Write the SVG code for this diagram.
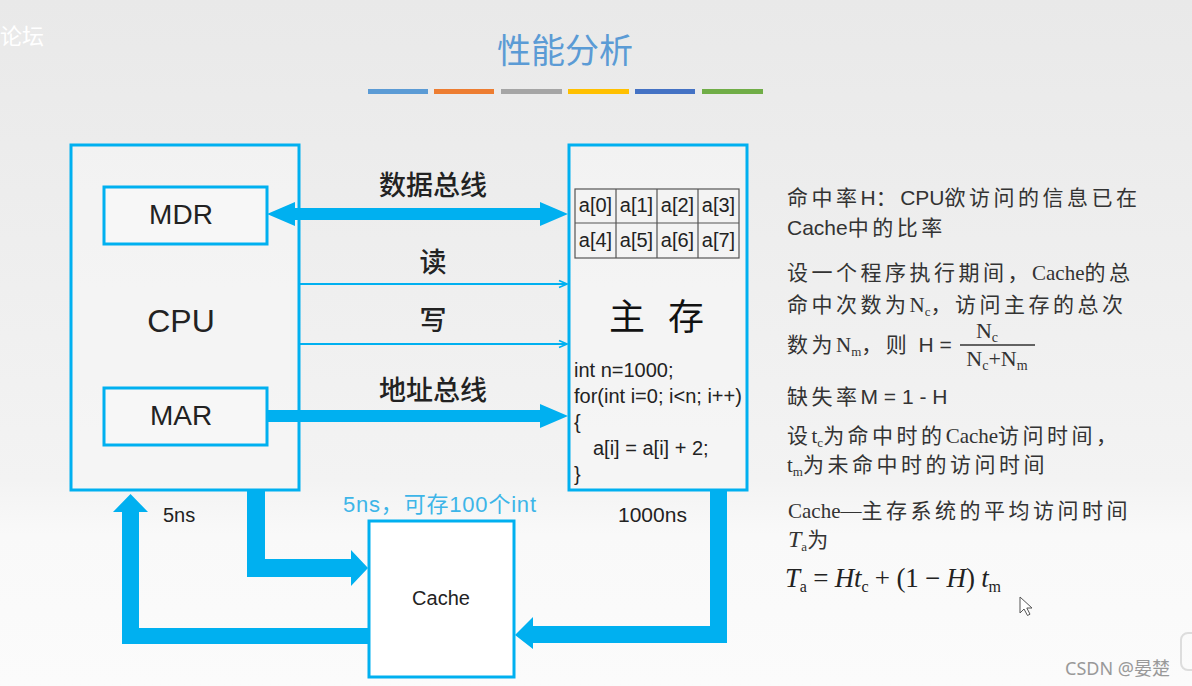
<svg xmlns="http://www.w3.org/2000/svg" width="1192" height="686" viewBox="0 0 1192 686">
<defs>
<linearGradient id="bg" x1="0" y1="0" x2="0" y2="1">
<stop offset="0" stop-color="#E9E9E9"/>
<stop offset="0.7" stop-color="#F3F3F3"/>
<stop offset="0.78" stop-color="#F9F9F9"/>
<stop offset="1" stop-color="#FBFBFB"/>
</linearGradient>
<marker id="thin" markerWidth="10" markerHeight="10" refX="9" refY="5" orient="auto" markerUnits="userSpaceOnUse">
<path d="M1,1.5 L9,5 L1,8.5" fill="none" stroke="#00B0F0" stroke-width="1.6"/>
</marker>
<style>
.box{fill:#F7F7F7;fill-opacity:0.6;stroke:#00B0F0;stroke-width:3}
.reg{fill:#F7F7F7;stroke:#00B0F0;stroke-width:3}
.thick{fill:#00B0F0}
.thin{stroke:#00B0F0;stroke-width:2;fill:none}
.lab{font-family:"Liberation Sans","Noto Sans CJK SC",sans-serif;fill:#222}
.cjk{font-family:"Noto Sans CJK SC",sans-serif}
.bus{font-family:"Noto Sans CJK SC",sans-serif;font-size:27px;font-weight:500;fill:#222;text-anchor:middle}
.cell{font-family:"Liberation Sans",sans-serif;font-size:20px;fill:#222;text-anchor:middle}
.code{font-family:"Liberation Sans",sans-serif;font-size:20px;fill:#222}
.rt{font-family:"Noto Sans CJK SC",sans-serif;font-size:21px;fill:#333;letter-spacing:3.5px}
.sa{font-family:"Liberation Sans",sans-serif;letter-spacing:0}
.se{font-family:"Liberation Serif",serif;letter-spacing:0}
.sub{font-family:"Liberation Serif",serif;letter-spacing:0;font-size:13px}
.it{font-family:"Liberation Serif",serif;font-style:italic;letter-spacing:0}
</style>
</defs>
<rect x="0" y="0" width="1192" height="686" fill="url(#bg)"/>
<text x="0" y="44" font-family="Noto Sans CJK SC, sans-serif" font-size="22" fill="#FFFFFF">论坛</text>

<g id="title">
<text x="565" y="63" font-family="Noto Sans CJK SC, sans-serif" font-size="34" fill="#5B9BD5" text-anchor="middle">性能分析</text>
<rect x="368" y="89" width="60" height="5" fill="#5B9BD5"/>
<rect x="434" y="89" width="60" height="5" fill="#ED7D31"/>
<rect x="501" y="89" width="61" height="5" fill="#A5A5A5"/>
<rect x="568" y="89" width="61" height="5" fill="#FFC000"/>
<rect x="635" y="89" width="60" height="5" fill="#4472C4"/>
<rect x="702" y="89" width="61" height="5" fill="#70AD47"/>
</g>

<g id="cpu">
<rect class="box" x="71" y="145" width="228" height="345"/>
<text class="lab" x="181" y="332" font-size="32" text-anchor="middle">CPU</text>
</g>
<g id="mdr">
<rect class="reg" x="104" y="187" width="163" height="57"/>
<text class="lab" x="181" y="224" font-size="28" text-anchor="middle">MDR</text>
</g>
<g id="mar">
<rect class="reg" x="104" y="388" width="163" height="57"/>
<text class="lab" x="181" y="425" font-size="28" text-anchor="middle">MAR</text>
</g>

<g id="memory">
<rect class="box" x="569" y="145" width="178" height="345"/>
<g fill="none" stroke="#555" stroke-width="1.2">
<rect x="575" y="189" width="164" height="69"/>
<line x1="575" y1="223" x2="739" y2="223"/>
<line x1="616" y1="189" x2="616" y2="258"/>
<line x1="657" y1="189" x2="657" y2="258"/>
<line x1="698" y1="189" x2="698" y2="258"/>
</g>
<text class="cell" x="595.5" y="212">a[0]</text>
<text class="cell" x="636.5" y="212">a[1]</text>
<text class="cell" x="677.5" y="212">a[2]</text>
<text class="cell" x="718.5" y="212">a[3]</text>
<text class="cell" x="595.5" y="247">a[4]</text>
<text class="cell" x="636.5" y="247">a[5]</text>
<text class="cell" x="677.5" y="247">a[6]</text>
<text class="cell" x="718.5" y="247">a[7]</text>
<text class="cjk" x="627" y="330" font-size="36" fill="#111" text-anchor="middle">主</text>
<text class="cjk" x="686" y="330" font-size="36" fill="#111" text-anchor="middle">存</text>
<text class="code" x="574" y="377">int n=1000;</text>
<text class="code" x="574" y="403">for(int i=0; i&lt;n; i++)</text>
<text class="code" x="574" y="429">{</text>
<text class="code" x="593" y="455">a[i] = a[i] + 2;</text>
<text class="code" x="574" y="481">}</text>
</g>

<g id="cache">
<rect x="369" y="521" width="145" height="156" fill="#FFFFFF" stroke="#00B0F0" stroke-width="3"/>
<text class="lab" x="441" y="605" font-size="20" text-anchor="middle">Cache</text>
</g>

<g id="connectors">
<polygon class="thick" points="267,214 295,202 295,208 540,208 540,202 568,214 540,226 540,220 295,220 295,226"/>
<polygon class="thick" points="267,410 540,410 540,404 568,416 540,428 540,422 267,422"/>
<line class="thin" x1="299" y1="284" x2="567" y2="284" marker-end="url(#thin)"/>
<line class="thin" x1="299" y1="344" x2="567" y2="344" marker-end="url(#thin)"/>
<polygon class="thick" points="247,491 265,491 265,559 351,559 351,550 368,568 351,586 351,577 247,577"/>
<polygon class="thick" points="368,628 139,628 139,512 148,512 130.5,494 113,512 122,512 122,644 368,644"/>
<polygon class="thick" points="710,491 727,491 727,643 533,643 533,649 515,635 533,617 533,626 710,626"/>
</g>

<g id="labels">
<text class="bus" x="433" y="195">数据总线</text>
<text class="bus" x="433" y="272">读</text>
<text class="bus" x="433" y="330">写</text>
<text class="bus" x="433" y="400">地址总线</text>
<text class="lab" x="163" y="522" font-size="20" fill="#333">5ns</text>
<text class="lab" x="343" y="512" font-size="22" style="fill:#3DB5E8;letter-spacing:0.8px">5ns，可存100个int</text>
<text class="lab" x="618" y="522" font-size="21">1000ns</text>
</g>

<g id="notes">
<text class="rt" x="787" y="205">命中率<tspan class="sa">H</tspan>：<tspan class="sa">CPU</tspan>欲访问的信息已在</text>
<text class="rt" x="787" y="235"><tspan class="sa">Cache</tspan>中的比率</text>
<text class="rt" x="787" y="280">设一个程序执行期间，<tspan class="se">Cache</tspan>的总</text>
<text class="rt" x="787" y="312">命中次数为<tspan class="se">N</tspan><tspan class="sub" dy="4">c</tspan><tspan dy="-4">，访问主存的总次</tspan></text>
<text class="rt" x="787" y="352">数为<tspan class="se">N</tspan><tspan class="sub" dy="4">m</tspan><tspan dy="-4">，则 </tspan><tspan class="sa">H =</tspan></text>
<text class="se" x="987" y="338" font-size="22" fill="#333" text-anchor="middle">N<tspan font-size="14" dy="4">c</tspan></text>
<line x1="960" y1="345" x2="1035" y2="345" stroke="#333" stroke-width="1.6"/>
<text class="se" x="997" y="366" font-size="22" fill="#333" text-anchor="middle">N<tspan font-size="14" dy="4">c</tspan><tspan dy="-4">+N</tspan><tspan font-size="14" dy="4">m</tspan></text>
<text class="rt" x="787" y="404">缺失率<tspan class="sa">M = 1 - H</tspan></text>
<text class="rt" x="787" y="443">设<tspan class="se">t</tspan><tspan class="sub" dy="4">c</tspan><tspan dy="-4">为命中时的</tspan><tspan class="se">Cache</tspan>访问时间，</text>
<text class="rt" x="787" y="472"><tspan class="se">t</tspan><tspan class="sub" dy="4">m</tspan><tspan dy="-4">为未命中时的访问时间</tspan></text>
<text class="rt" x="788" y="518" font-size="22" style="letter-spacing:3.5px"><tspan class="se">Cache—</tspan>主存系统的平均访问时间</text>
<text class="rt" x="788" y="547"><tspan class="it" font-size="24">T</tspan><tspan class="sub" dy="4">a</tspan><tspan dy="-4">为</tspan></text>
<text class="se" x="785" y="587" font-size="27" fill="#222" textLength="216" lengthAdjust="spacing"><tspan class="it">T</tspan><tspan font-size="16" dy="5">a</tspan><tspan dy="-5"> = </tspan><tspan class="it">Ht</tspan><tspan font-size="16" dy="5">c</tspan><tspan dy="-5"> + (1 − </tspan><tspan class="it">H</tspan><tspan>) </tspan><tspan class="it">t</tspan><tspan font-size="16" dy="5">m</tspan></text>
</g>

<path d="M1020,597 L1020,613 L1024,609 L1027.5,615.5 L1030,614.2 L1026.8,608 L1032,608 Z" fill="#FFFFFF" stroke="#555" stroke-width="1"/>
<rect x="1181" y="633" width="30" height="37" rx="7" fill="none" stroke="#DDDDDD" stroke-width="2"/>
<text x="1065" y="675" font-family="Noto Sans, Noto Sans CJK SC, sans-serif" font-size="18" fill="#999999">CSDN @晏楚</text>
</svg>
